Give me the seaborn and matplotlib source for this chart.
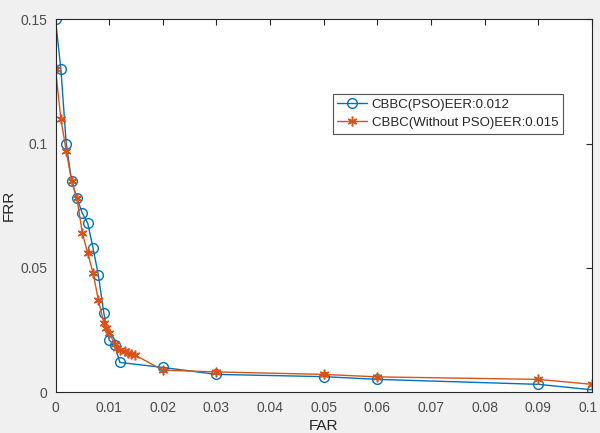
import matplotlib
matplotlib.use("Agg")
import matplotlib.pyplot as plt
import matplotlib.transforms as mtrans
import seaborn as sns
import pandas as pd
from matplotlib.ticker import FuncFormatter

# Data
far_pso = [0, 0.001, 0.002, 0.003, 0.004, 0.005, 0.006, 0.007, 0.008, 0.009,
           0.010, 0.011, 0.012, 0.02, 0.03, 0.05, 0.06, 0.09, 0.1]
frr_pso = [0.15, 0.13, 0.1, 0.085, 0.078, 0.072, 0.068, 0.058, 0.047, 0.032,
           0.021, 0.019, 0.012, 0.010, 0.0072, 0.0063, 0.0052, 0.0032, 0.001]

far_nopso = [0, 0.001, 0.002, 0.003, 0.004, 0.005, 0.006, 0.007, 0.008, 0.009,
             0.0095, 0.010, 0.011, 0.0115, 0.012, 0.013, 0.0135, 0.014, 0.0148,
             0.02, 0.03, 0.05, 0.06, 0.09, 0.1]
frr_nopso = [0.13, 0.11, 0.097, 0.085, 0.078, 0.064, 0.056, 0.048, 0.037, 0.028,
             0.026, 0.024, 0.0195, 0.018, 0.0172, 0.0165, 0.016, 0.0155, 0.015,
             0.0089, 0.0082, 0.0072, 0.0062, 0.0052, 0.0032]

labels = ["CBBC(PSO)EER:0.012", "CBBC(Without PSO)EER:0.015"]
xticks = [0, 0.01, 0.02, 0.03, 0.04, 0.05, 0.06, 0.07, 0.08, 0.09, 0.1]
yticks = [0, 0.05, 0.1, 0.15]

sns.set_style("white")
plt.rcParams["font.family"] = ["Liberation Sans", "DejaVu Sans"]

fig = plt.figure(figsize=(6, 4.33), dpi=100, facecolor="#f0f0f0")
ax = fig.add_axes([0.0925, 0.094, 0.8942, 0.8614])
ax.set_facecolor("white")

df1 = pd.DataFrame({"FAR": far_pso, "FRR": frr_pso})
df2 = pd.DataFrame({"FAR": far_nopso, "FRR": frr_nopso})

sns.lineplot(data=df1, x="FAR", y="FRR", ax=ax, sort=False, color="#0072BD",
             marker="o", markersize=7, markerfacecolor="none",
             markeredgecolor="#0072BD", markeredgewidth=1, linewidth=1,
             label=labels[0])
sns.lineplot(data=df2, x="FAR", y="FRR", ax=ax, sort=False, color="#D95319",
             marker=(6, 2, 0), markersize=7, markerfacecolor="#D95319",
             markeredgecolor="#D95319", markeredgewidth=1.1, linewidth=1,
             label=labels[1])

ax.set_xlim(0, 0.1)
ax.set_ylim(0, 0.15)
ax.set_xticks(xticks)
ax.set_yticks(yticks)
fmt = FuncFormatter(lambda v, p: "%g" % round(v, 4))
ax.xaxis.set_major_formatter(fmt)
ax.yaxis.set_major_formatter(fmt)
ax.tick_params(direction="in", top=True, right=True, length=4, width=0.8,
               colors="#262626", labelsize=10, labelcolor="#4d4d4d", pad=6)
for s in ax.spines.values():
    s.set_color("#262626")
    s.set_linewidth(0.8)
ax.set_xlabel("FAR", fontsize=11, color="#262626", labelpad=3)
ax.set_ylabel("FRR", fontsize=11, color="#262626", labelpad=3)

# nudge the last x tick label so it stays inside the figure
last = ax.get_xticklabels()[-1]
last.set_transform(last.get_transform() +
                   mtrans.ScaledTranslation(-4 / 100, 0, fig.dpi_scale_trans))

leg = ax.legend(loc="upper left", bbox_to_anchor=(0.517, 0.80), borderaxespad=0,
                frameon=True, fancybox=False, fontsize=9.5, handlelength=2.2,
                borderpad=0.35, labelspacing=0.45, handletextpad=0.4)
leg.get_frame().set_edgecolor("#262626")
leg.get_frame().set_linewidth(0.8)

fig.savefig("out.png", dpi=100, facecolor=fig.get_facecolor())
